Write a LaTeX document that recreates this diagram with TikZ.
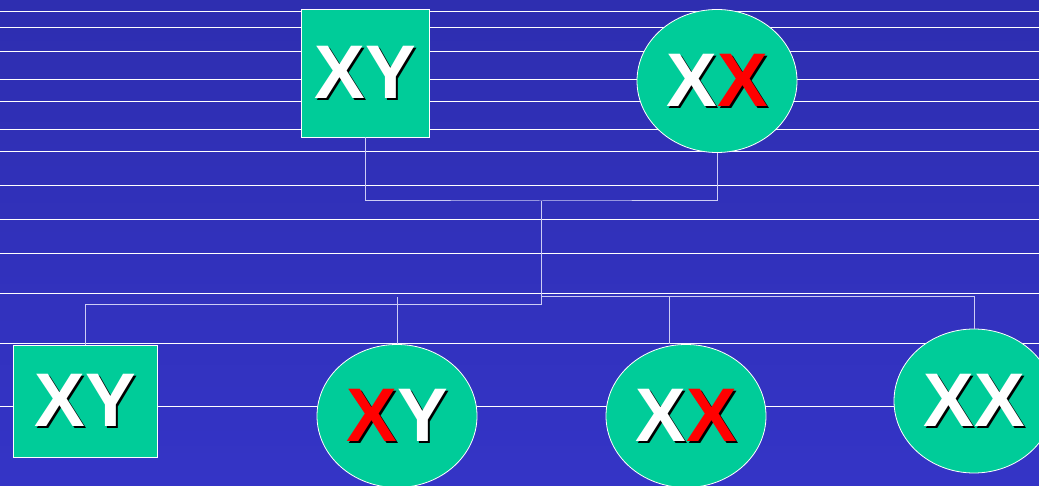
\documentclass[tikz,border=0pt]{standalone}
\usepackage{fontspec}
\setmainfont{Liberation Sans}
\usetikzlibrary{shapes.geometric, positioning, calc}
\definecolor{slidetop}{RGB}{46,46,176}
\definecolor{slidebot}{RGB}{52,52,198}
\definecolor{gene}{RGB}{0,204,153}
\definecolor{wire}{RGB}{205,205,245}
\newcommand{\dropword}[2]{\makebox[0pt][l]{\hspace{2pt}\raisebox{-2pt}{\color{black}#1}}#2}
\tikzset{
    sqbox/.style={draw=white, line width=0.8pt, fill=gene, inner sep=0pt, text=white, font=\bfseries\fontsize{76}{76}\selectfont},
    ellbox/.style={sqbox, ellipse, minimum width=160pt, minimum height=143pt},
    link/.style={draw=wire, line width=1pt},
    hline/.style={white, line width=1pt}
}

\begin{document}
\begin{tikzpicture}[x=1pt, y=-1pt]
        \useasboundingbox (0,0) rectangle (1039,486);
        \shade [top color=slidetop, bottom color=slidebot] (0,0) rectangle (1039,486);
        \foreach \yy in {12,28,52,80,102,130,152,186,220,254,294,344,406}
            \draw [hline] (0,\yy) -- (1039,\yy);
        % parents
        \node [sqbox, minimum width=128pt, minimum height=128pt] (dad) at (365,73) {\dropword{XY}{XY}};
        \node [ellbox] (mum) at (717,81) {\dropword{XX}{X\textcolor{red}{X}}};
        % children
        \node [sqbox, minimum width=144pt, minimum height=112pt] (son) at (85,401) {\dropword{XY}{XY}};
        \node [ellbox] (sonaff) at (397,416) {\dropword{XY}{\textcolor{red}{X}Y}};
        \node [ellbox] (carrier) at (686,416) {\dropword{XX}{X\textcolor{red}{X}}};
        \node [ellbox, minimum height=144pt] (daughter) at (974,401) {\dropword{XX}{XX}};
        \coordinate (join) at (541,201);
        \coordinate (leftbar) at (541,305);
        \coordinate (rightbar) at (541,297);
        \coordinate (dropaff) at (397,297);
        \coordinate (dropcar) at (669,297);
        \draw [link] (dad.south) |- (join) -| (mum.south);
        \draw [link] (join) -- (leftbar) -| (son.north);
        \draw [link] (rightbar) -| (daughter.north);
        \draw [link] (dropaff) -- (sonaff.north);
        \draw [link] (dropcar) -- (carrier.north -| dropcar);
    \end{tikzpicture}
\end{document}
